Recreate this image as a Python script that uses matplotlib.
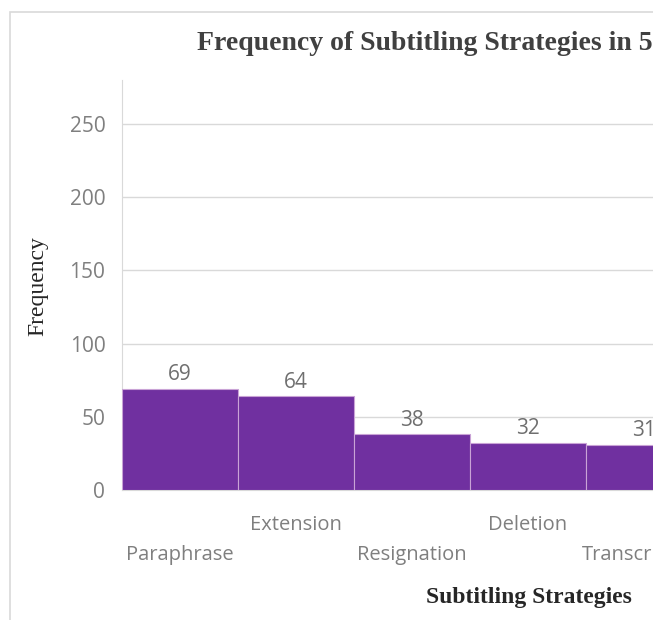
import matplotlib.pyplot as plt
from matplotlib.patches import Rectangle

strategies = ['Paraphrase', 'Extension', 'Resignation', 'Deletion', 'Transcription']
frequency = [69, 64, 38, 32, 31]
y_ticks = [0, 50, 100, 150, 200, 250]

bar_color = '#7030A0'
grey = '#7f7f7f'

fig = plt.figure(figsize=(6.53, 6.2), dpi=100)

# light frame of the chart area (partly cut off at the right / bottom)
fig.patches.append(Rectangle((10 / 653, -0.1), 1.2, (620 - 12) / 620 + 0.1,
                             transform=fig.transFigure, fill=False,
                             edgecolor='#d9d9d9', linewidth=1.2))

# axes run past the right edge of the picture, like the cropped original
ax = fig.add_axes([122 / 653, 130 / 620, 580 / 653, 410 / 620])

x = list(range(len(strategies)))
ax.bar(x, frequency, width=1.0, color=bar_color, edgecolor='#c9a3d6',
       linewidth=0.8, zorder=3)

for xi, v in zip(x, frequency):
    ax.text(xi, v + 2.5, str(v), ha='center', va='bottom', color='#6f6f6f',
            fontsize=15, family='Open Sans')

ax.set_xlim(-0.5, 4.5)
ax.set_ylim(0, 280)
ax.set_yticks(y_ticks)
ax.grid(axis='y', color='#d9d9d9', linewidth=1, zorder=0)
ax.tick_params(axis='y', length=0, pad=12, labelsize=15, labelcolor=grey)
for lab in ax.get_yticklabels():
    lab.set_family('Open Sans')

# staggered category labels: even ones low (major), odd ones high (minor)
ax.set_xticks(x[0::2])
ax.set_xticklabels(strategies[0::2], family='Open Sans')
ax.set_xticks(x[1::2], minor=True)
ax.set_xticklabels(strategies[1::2], minor=True, family='Open Sans')
ax.tick_params(axis='x', which='major', length=0, pad=39.5, labelsize=14.5,
               labelcolor=grey)
ax.tick_params(axis='x', which='minor', length=0, pad=18, labelsize=14.5,
               labelcolor=grey)

for side in ['top', 'right']:
    ax.spines[side].set_visible(False)
ax.spines['left'].set_color('#d9d9d9')
ax.spines['bottom'].set_color('#d9d9d9')

fig.text(197 / 653, 1 - 43 / 620, 'Frequency of Subtitling Strategies in 5',
         ha='left', va='center', fontsize=20, fontweight='bold',
         family='Liberation Serif', color='#404040')
fig.text(529 / 653, 1 - 597 / 620, 'Subtitling Strategies', ha='center',
         va='center', fontsize=17, fontweight='bold', family='Liberation Serif',
         color='#262626')
fig.text(38 / 653, 1 - 286 / 620, 'Frequency', ha='center', va='center',
         rotation=90, fontsize=17, family='Liberation Serif', color='#262626')

fig.savefig('out.png', dpi=100)
